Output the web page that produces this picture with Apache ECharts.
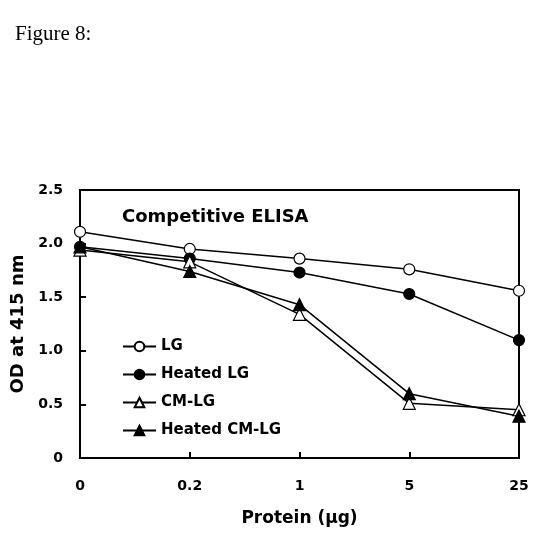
<!DOCTYPE html>
<html>
<head>
<meta charset="utf-8">
<script src="https://cdn.jsdelivr.net/npm/echarts@6/dist/echarts.min.js"></script>
<style>
  html, body { margin: 0; padding: 0; background: #fff; }
  #chart { width: 548px; height: 551px; }
</style>
</head>
<body>
<div id="chart"></div>
<script>
    // data
    var doses = ['0', '0.2', '1', '5', '25']
    var lg = [2.11, 1.95, 1.86, 1.76, 1.56]
    var heatedLg = [1.97, 1.86, 1.73, 1.53, 1.10]
    var cmLg = [1.94, 1.83, 1.34, 0.51, 0.45]
    var heatedCmLg = [1.97, 1.74, 1.43, 0.60, 0.39]
    var yTicks = ['0', '0.5', '1.0', '1.5', '2.0', '2.5']

    var boldFont = 'DejaVu Sans'

    function mkSeries(name, data, symbol, filled) {
        return {
            name: name,
            type: 'line',
            data: data,
            symbol: symbol,
            symbolSize: symbol == 'triangle' ? 12 : 11,
            lineStyle: { color: '#000', width: 1.5 },
            itemStyle: { color: filled ? '#000' : '#fff', borderColor: '#000', borderWidth: 1.2 },
            emphasis: { disabled: true },
            animation: false
        }
    }

    var chart = echarts.init(document.getElementById('chart'))
    chart.setOption({
        animation: false,
        graphic: [
            {
                type: 'text', left: 15, top: 24,
                style: { text: 'Figure 8:', font: '21px "Liberation Serif"', fill: '#000' }
            },
            {
                type: 'text', left: 122, top: 208,
                style: { text: 'Competitive ELISA', font: 'bold 18px "DejaVu Sans"', fill: '#000' }
            }
        ],
        grid: { left: 80, right: 29, top: 190, bottom: 93, show: true, borderColor: '#000', borderWidth: 2, backgroundColor: 'transparent' },
        legend: {
            orient: 'vertical', left: 117, top: 334,
            itemWidth: 33, itemHeight: 12, itemGap: 13,
            textStyle: { fontFamily: boldFont, fontWeight: 'bold', fontSize: 15, color: '#000' },
            data: ['LG', 'Heated LG', 'CM-LG', 'Heated CM-LG']
        },
        xAxis: {
            type: 'category', data: doses, boundaryGap: false,
            name: 'Protein (µg)', nameLocation: 'middle', nameGap: 52,
            nameTextStyle: { fontFamily: boldFont, fontWeight: 'bold', fontSize: 17, color: '#000' },
            axisLine: { lineStyle: { color: '#000', width: 2 } },
            axisTick: { inside: true, length: 6, lineStyle: { color: '#000', width: 2 } },
            axisLabel: { fontFamily: boldFont, fontWeight: 'bold', fontSize: 14, color: '#000', margin: 21 },
            splitLine: { show: false }
        },
        yAxis: {
            type: 'value', min: 0, max: 2.5, interval: 0.5,
            name: 'OD at 415 nm', nameLocation: 'middle', nameGap: 50,
            nameTextStyle: { fontFamily: boldFont, fontWeight: 'bold', fontSize: 18, color: '#000' },
            axisLine: { show: true, lineStyle: { color: '#000', width: 2 } },
            axisTick: { show: true, inside: true, length: 6, lineStyle: { color: '#000', width: 2 } },
            axisLabel: {
                fontFamily: boldFont, fontWeight: 'bold', fontSize: 14, color: '#000', margin: 17,
                formatter: function (v) { return yTicks[Math.round(v / 0.5)] }
            },
            splitLine: { show: false }
        },
        series: [
            mkSeries('LG', lg, 'circle', false),
            mkSeries('Heated LG', heatedLg, 'circle', true),
            mkSeries('CM-LG', cmLg, 'triangle', false),
            mkSeries('Heated CM-LG', heatedCmLg, 'triangle', true)
        ]
    })
</script>
</body>
</html>
